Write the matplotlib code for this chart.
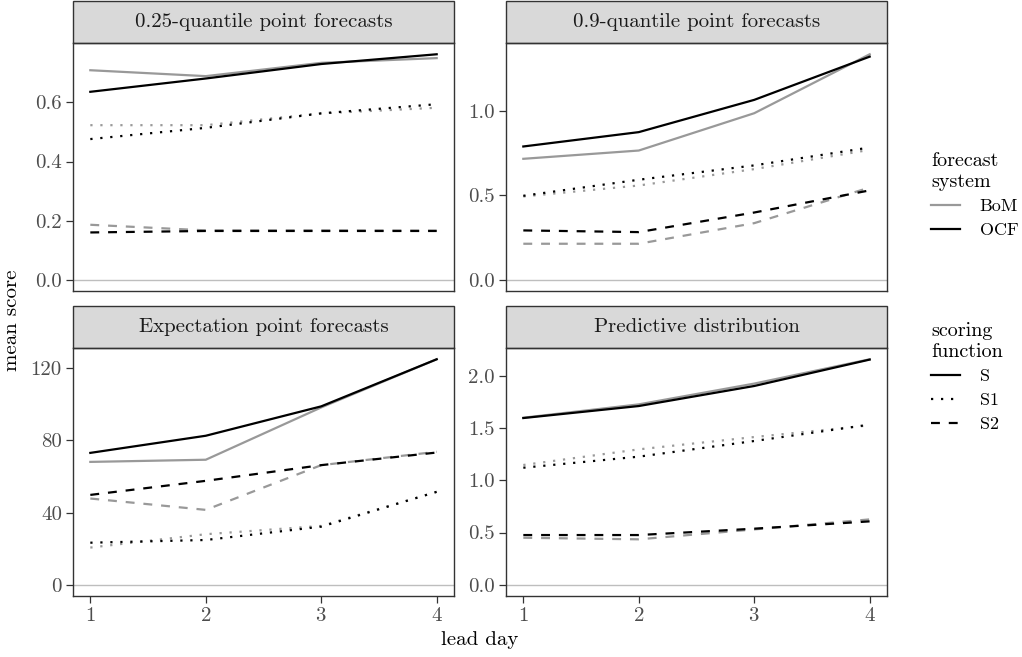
import numpy as np
import matplotlib.pyplot as plt
from matplotlib.lines import Line2D
from matplotlib.patches import Rectangle
from matplotlib.ticker import FormatStrFormatter

plt.rcParams['font.family'] = ['cmr10', 'DejaVu Serif']
plt.rcParams['axes.formatter.use_mathtext'] = True

lead_day = [1, 2, 3, 4]
panels = ['0.25-quantile point forecasts', '0.9-quantile point forecasts',
          'Expectation point forecasts', 'Predictive distribution']

# mean scores: [panel][system][scoring function]
q25_bom = {'S': [0.709, 0.689, 0.734, 0.750], 'S1': [0.523, 0.523, 0.563, 0.582], 'S2': [0.186, 0.167, 0.167, 0.166]}
q25_ocf = {'S': [0.636, 0.681, 0.730, 0.763], 'S1': [0.476, 0.514, 0.563, 0.594], 'S2': [0.160, 0.165, 0.165, 0.165]}
q90_bom = {'S': [0.716, 0.765, 0.986, 1.335], 'S1': [0.493, 0.558, 0.655, 0.769], 'S2': [0.213, 0.213, 0.335, 0.546]}
q90_ocf = {'S': [0.789, 0.874, 1.065, 1.321], 'S1': [0.497, 0.592, 0.677, 0.783], 'S2': [0.292, 0.282, 0.398, 0.529]}
exp_bom = {'S': [68.1, 69.3, 98.3, 125.0], 'S1': [20.6, 28.0, 32.6, 51.5], 'S2': [47.8, 41.5, 66.3, 73.7]}
exp_ocf = {'S': [73.1, 82.6, 98.9, 125.0], 'S1': [23.3, 24.8, 32.2, 51.5], 'S2': [49.8, 57.6, 66.3, 73.3]}
dist_bom = {'S': [1.600, 1.728, 1.927, 2.160], 'S1': [1.147, 1.297, 1.415, 1.527], 'S2': [0.450, 0.435, 0.530, 0.626]}
dist_ocf = {'S': [1.597, 1.712, 1.904, 2.157], 'S1': [1.121, 1.227, 1.377, 1.534], 'S2': [0.476, 0.476, 0.537, 0.607]}

panel_data = [(q25_bom, q25_ocf), (q90_bom, q90_ocf), (exp_bom, exp_ocf), (dist_bom, dist_ocf)]
yticks = [[0.0, 0.2, 0.4, 0.6], [0.0, 0.5, 1.0], [0, 40, 80, 120], [0.0, 0.5, 1.0, 1.5, 2.0]]
yfmt = ['%.1f', '%.1f', '%d', '%.1f']

sys_colors = {'BoM': '#999999', 'OCF': 'black'}
styles = {'S': '-', 'S1': (0, (1, 3.5)), 'S2': (0, (4, 4))}

W, H = 1022, 657
fig = plt.figure(figsize=(W / 100, H / 100), dpi=100)

# panel boxes in pixels: left, top, right, bottom
boxes = [(73, 43, 454, 291), (506, 43, 887, 291), (73, 348, 454, 596), (506, 348, 887, 596)]
strip_h = 42

edge = '#333333'
for i, (l, t, r, b) in enumerate(boxes):
    ax = fig.add_axes([l / W, 1 - b / H, (r - l) / W, (b - t) / H])
    bom, ocf = panel_data[i]
    ax.axhline(0, color='#bebebe', lw=1.0, zorder=1)
    for name, d in [('BoM', bom), ('OCF', ocf)]:
        for sf in ['S', 'S1', 'S2']:
            ax.plot(lead_day, d[sf], color=sys_colors[name], ls=styles[sf], lw=1.6, zorder=2)
    allv = [v for d in (bom, ocf) for s in d.values() for v in s] + [0]
    lo, hi = min(allv), max(allv)
    pad = 0.05 * (hi - lo)
    ax.set_ylim(lo - pad, hi + pad)
    ax.set_xlim(1 - 0.15, 4 + 0.15)
    ax.set_yticks(yticks[i])
    ax.yaxis.set_major_formatter(FormatStrFormatter(yfmt[i]))
    ax.set_xticks(lead_day)
    for s in ax.spines.values():
        s.set_color(edge)
        s.set_linewidth(1.0)
    ax.tick_params(colors=edge, labelcolor='#4d4d4d', labelsize=15, length=5, width=0.9, pad=3)
    if i < 2:
        ax.tick_params(axis='x', bottom=False, labelbottom=False)
    ax.add_patch(Rectangle((0, 1), 1, strip_h / (b - t), transform=ax.transAxes,
                           facecolor='#d9d9d9', edgecolor=edge, lw=1.0, clip_on=False))
    ax.text(0.5, 1 + strip_h / (b - t) / 2, panels[i], transform=ax.transAxes,
            ha='center', va='center', fontsize=15, color='#1a1a1a')

fig.text(12 / W, 1 - 320 / H, 'mean score', rotation=90, ha='center', va='center', fontsize=15)
fig.text(480 / W, 1 - 640 / H, 'lead day', ha='center', va='center', fontsize=15)

# two legends, fig.legend already registers each one with the figure
h1 = [Line2D([], [], color=sys_colors[n], lw=1.6) for n in ['BoM', 'OCF']]
fig.legend(h1, ['BoM', 'OCF'], title='forecast\nsystem', loc='upper left',
           bbox_to_anchor=(931 / W, 1 - 152 / H), frameon=False, fontsize=13,
           title_fontsize=14.5, handlelength=1.6, borderaxespad=0, borderpad=0,
           labelspacing=0.45, handletextpad=1.1, alignment='left')
h2 = [Line2D([], [], color='black', lw=1.6, ls=styles[s]) for s in ['S', 'S1', 'S2']]
fig.legend(h2, ['S', 'S1', 'S2'], title='scoring\nfunction', loc='upper left',
           bbox_to_anchor=(931 / W, 1 - 322 / H), frameon=False, fontsize=13,
           title_fontsize=14.5, handlelength=1.6, borderaxespad=0, borderpad=0,
           labelspacing=0.45, handletextpad=1.1, alignment='left')

fig.savefig('out.png', dpi=100)
